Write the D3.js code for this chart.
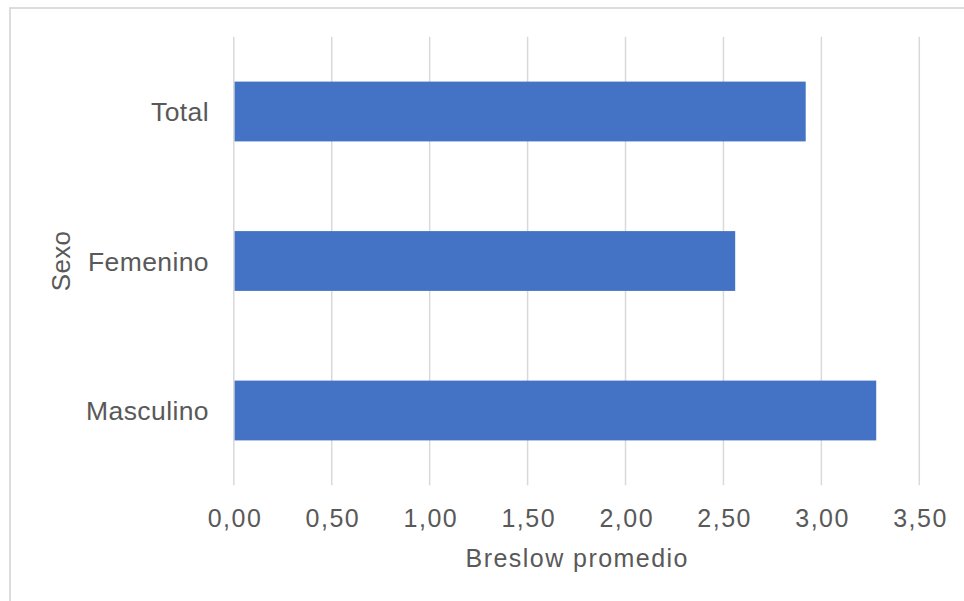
<!DOCTYPE html>
<html>
<head>
<meta charset="utf-8">
<script src="https://cdn.jsdelivr.net/npm/d3@7"></script>
<style>
  html, body { margin: 0; padding: 0; background: #fff; }
  svg { display: block; }
  text { font-family: "Liberation Sans", Arial, sans-serif; fill: #595959; }
</style>
</head>
<body>
<svg id="chart" width="964" height="601"></svg>
<script>
// Breslow promedio por sexo
const categories = ["Total", "Femenino", "Masculino"];
const values = [2.92, 2.56, 3.28];
const xTicks = [0, 0.5, 1, 1.5, 2, 2.5, 3, 3.5];
const xTitle = "Breslow promedio";
const yTitle = "Sexo";

const W = 964, H = 601;
const plot = { left: 233.8, right: 919.3, top: 36.75, bottom: 485.25 };

const svg = d3.select("#chart");

// chart frame (extends past the right and bottom edges)
svg.append("rect")
  .attr("x", 10).attr("y", 8)
  .attr("width", W).attr("height", H)
  .attr("fill", "none")
  .attr("stroke", "#d9d9d9")
  .attr("stroke-width", 1.8);

const x = d3.scaleLinear().domain([0, 3.5]).range([plot.left, plot.right]);
const y = d3.scaleBand().domain(categories)
  .range([plot.top, plot.bottom])
  .paddingInner(0.6).paddingOuter(0.3);

const fmt = d3.formatLocale({ decimal: ",", thousands: ".", grouping: [3], currency: ["", ""] }).format(".2f");

// vertical gridlines
svg.append("g")
  .selectAll("line")
  .data(xTicks)
  .join("line")
  .attr("x1", d => x(d)).attr("x2", d => x(d))
  .attr("y1", plot.top).attr("y2", plot.bottom)
  .attr("stroke", "#d9d9d9")
  .attr("stroke-width", 1.5);

// bars
svg.append("g")
  .selectAll("rect")
  .data(categories)
  .join("rect")
  .attr("x", x(0) + 0.8)
  .attr("y", d => y(d))
  .attr("width", (d, i) => x(values[i]) - x(0) - 0.8)
  .attr("height", y.bandwidth())
  .attr("fill", "#4472C4");

// x axis labels
const xAxis = d3.axisBottom(x).tickValues(xTicks).tickFormat(fmt).tickSize(0).tickPadding(0);
const gx = svg.append("g")
  .attr("transform", `translate(0,${plot.bottom})`)
  .call(xAxis);
gx.select(".domain").remove();
gx.selectAll("text")
  .attr("dy", null)
  .attr("y", 41.5)
  .attr("dx", "0.7px")
  .style("font-size", "25px")
  .style("letter-spacing", "1.5px")
  .style("font-family", "'Liberation Sans', Arial, sans-serif")
  .attr("fill", "#595959");

// y axis labels
const yAxis = d3.axisLeft(y).tickSize(0).tickPadding(0);
const gy = svg.append("g")
  .attr("transform", `translate(209,0)`)
  .call(yAxis);
gy.select(".domain").remove();
gy.selectAll("text")
  .attr("dy", null)
  .attr("y", 9.5)
  .style("font-size", "26.5px")
  .style("letter-spacing", "0.4px")
  .style("font-family", "'Liberation Sans', Arial, sans-serif")
  .attr("fill", "#595959");

// axis titles
svg.append("text")
  .attr("x", (plot.left + plot.right) / 2 + 0.7)
  .attr("y", 567)
  .attr("text-anchor", "middle")
  .style("font-size", "25px")
  .style("letter-spacing", "1.45px")
  .text(xTitle);

svg.append("text")
  .attr("transform", `translate(70,${(plot.top + plot.bottom) / 2}) rotate(-90)`)
  .attr("text-anchor", "middle")
  .style("font-size", "26px")
  .style("letter-spacing", "0.3px")
  .text(yTitle);
</script>
</body>
</html>
